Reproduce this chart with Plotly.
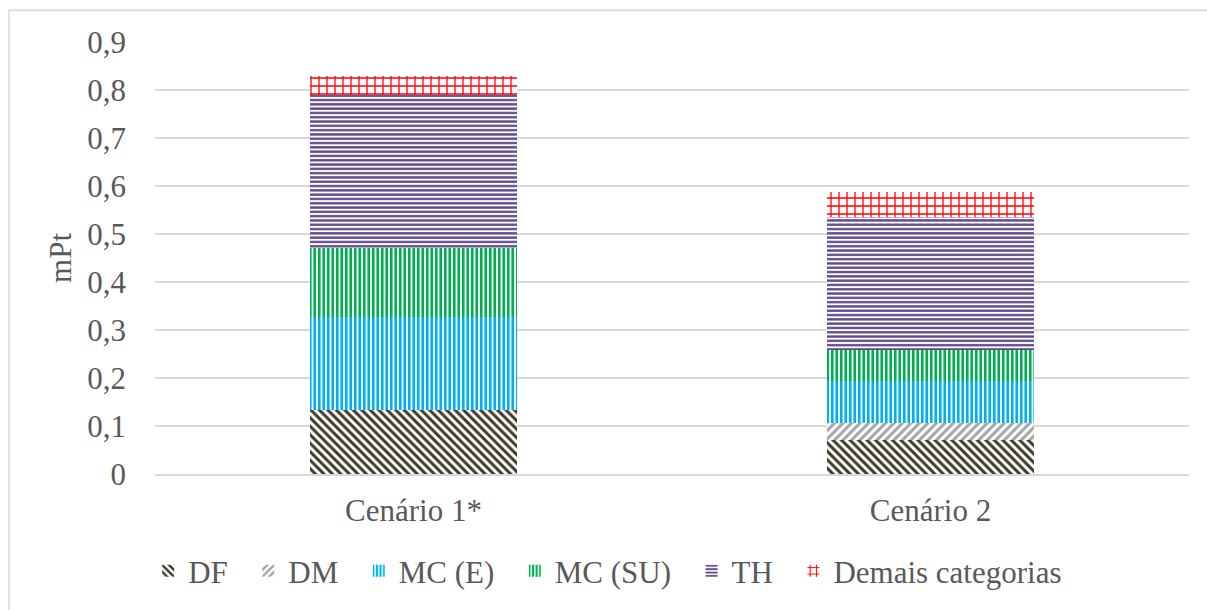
import plotly.graph_objects as go

# Cenários comparados
cenarios = ["Cenário 1*", "Cenário 2"]

# Contribuição por categoria de impacto (mPt)
df_vals = [0.133, 0.070]
dm_vals = [0.000, 0.036]
mce_vals = [0.194, 0.088]
mcsu_vals = [0.144, 0.065]
th_vals = [0.319, 0.276]
demais_vals = [0.040, 0.053]

tick_vals = [0, 0.1, 0.2, 0.3, 0.4, 0.5, 0.6, 0.7, 0.8, 0.9]
tick_text = ["0", "0,1", "0,2", "0,3", "0,4", "0,5", "0,6", "0,7", "0,8", "0,9"]

FONT = "Liberation Serif"
TXT = "#595959"
PAD = "\u00a0\u00a0"  # extra room between legend entries

series = [
    ("DF", df_vals, "#3f3a28", "\\", 6, 0.5),
    ("DM", dm_vals, "#a6a6a6", "/", 6, 0.5),
    ("MC (E)", mce_vals, "#00b0f0", "|", 4.5, 0.6),
    ("MC (SU)", mcsu_vals, "#00b050", "|", 4.5, 0.6),
    ("TH", th_vals, "#5f4b8b", "-", 4.3, 0.55),
    ("Demais categorias", demais_vals, "#ff0000", "+", 8, 0.3),
]

fig = go.Figure()
for name, vals, color, shape, size, sol in series:
    fig.add_trace(go.Bar(
        name=name + PAD,
        x=cenarios,
        y=vals,
        marker=dict(
            color="white",
            line=dict(width=0),
            pattern=dict(shape=shape, fgcolor=color, bgcolor="white",
                         size=size, solidity=sol, fillmode="replace"),
        ),
    ))

fig.update_layout(
    barmode="stack",
    bargap=0.6,
    width=1207,
    height=610,
    margin=dict(l=155, r=18, t=42, b=133),
    paper_bgcolor="white",
    plot_bgcolor="white",
    font=dict(family=FONT, size=31, color=TXT),
    showlegend=True,
    legend=dict(
        orientation="h",
        x=0.445, xanchor="center",
        y=-0.225, yanchor="middle",
        font=dict(family=FONT, size=31, color=TXT),
        itemwidth=30,
        traceorder="normal",
    ),
    xaxis=dict(
        showgrid=False,
        showline=True,
        linecolor="#d9d9d9",
        linewidth=1.5,
        ticks="",
        tickfont=dict(family=FONT, size=31, color=TXT),
        ticklabelstandoff=8,
    ),
    yaxis=dict(
        range=[0, 0.9],
        tickvals=tick_vals,
        ticktext=tick_text,
        showgrid=True,
        gridcolor="#d9d9d9",
        gridwidth=1.5,
        zeroline=False,
        showline=False,
        ticks="",
        tickfont=dict(family=FONT, size=31, color=TXT),
        ticklabelstandoff=28,
    ),
    annotations=[
        dict(
            text="mPt", textangle=-90,
            xref="paper", yref="paper",
            x=-0.0919, y=0.50, xanchor="center", yanchor="middle",
            showarrow=False,
            font=dict(family=FONT, size=31, color=TXT),
        )
    ],
    shapes=[
        dict(
            type="rect", xref="paper", yref="paper",
            x0=(9 - 155) / 1034, x1=(1230 - 155) / 1034,
            y0=(477 - 640) / 435, y1=(477 - 10) / 435,
            line=dict(color="#d9d9d9", width=1.5),
            fillcolor="rgba(0,0,0,0)",
            layer="below",
        )
    ],
)

fig.write_html("out.html")
